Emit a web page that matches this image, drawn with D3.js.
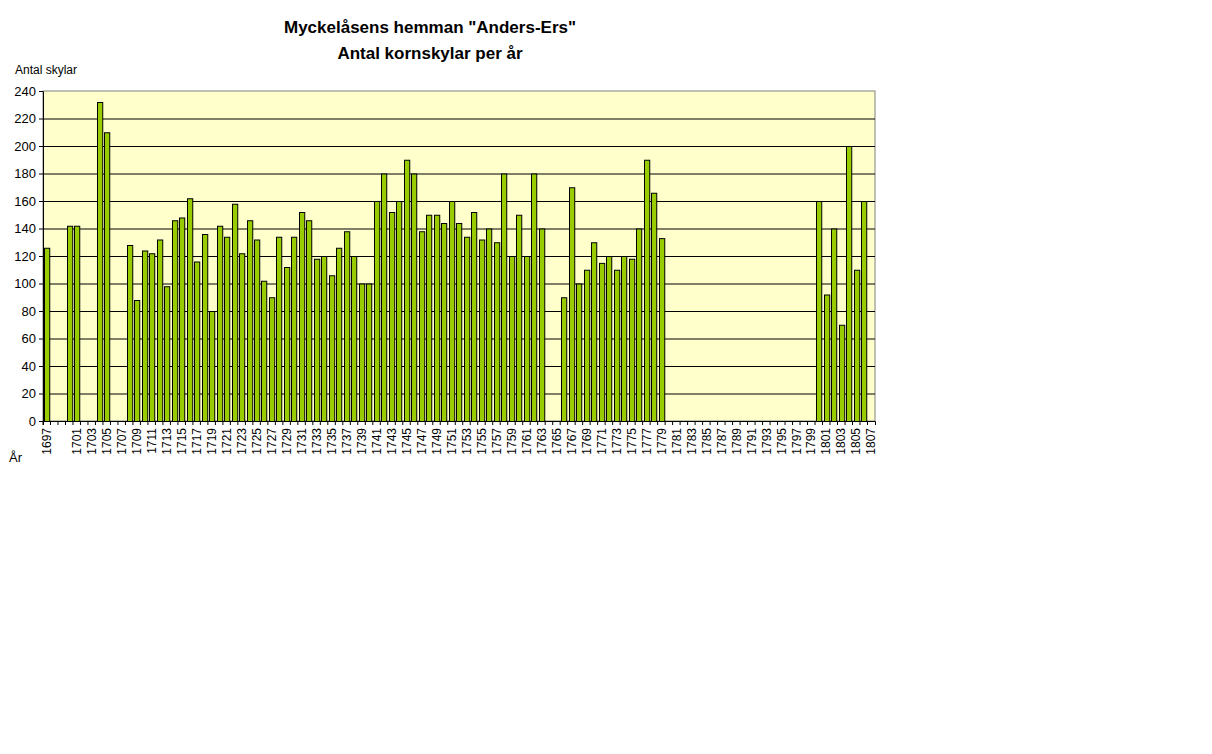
<!DOCTYPE html>
<html><head><meta charset="utf-8">
<script src="https://cdn.jsdelivr.net/npm/d3@7"></script>
<style>body{margin:0;background:#fff}</style>
</head><body>
<div id="chart"></div>
<script>
const firstYear = 1697, lastYear = 1807;
const years = d3.range(firstYear, lastYear + 1);
// skylar per year (missing = no data)
const values = {
  1697:126, 1700:142, 1701:142, 1704:232, 1705:210,
  1708:128, 1709:88, 1710:124, 1711:122, 1712:132, 1713:98, 1714:146, 1715:148,
  1716:162, 1717:116, 1718:136, 1719:80, 1720:142, 1721:134, 1722:158, 1723:122,
  1724:146, 1725:132, 1726:102, 1727:90, 1728:134, 1729:112, 1730:134, 1731:152,
  1732:146, 1733:118, 1734:120, 1735:106, 1736:126, 1737:138, 1738:120, 1739:100,
  1740:100, 1741:160, 1742:180, 1743:152, 1744:160, 1745:190, 1746:180, 1747:138,
  1748:150, 1749:150, 1750:144, 1751:160, 1752:144, 1753:134, 1754:152, 1755:132,
  1756:140, 1757:130, 1758:180, 1759:120, 1760:150, 1761:120, 1762:180, 1763:140,
  1766:90, 1767:170, 1768:100, 1769:110, 1770:130, 1771:115, 1772:120, 1773:110,
  1774:120, 1775:118, 1776:140, 1777:190, 1778:166, 1779:133,
  1800:160, 1801:92, 1802:140, 1803:70, 1804:200, 1805:110, 1806:160
};
const yTicks = d3.range(0, 241, 20);

const svg = d3.select("#chart").append("svg").attr("width", 1212).attr("height", 754)
  .style("font-family", "Arial, 'Liberation Sans', sans-serif");

const pLeft = 43, pRight = 875, pTop = 91, pBottom = 421;
const x = d3.scaleBand().domain(years).range([pLeft, pRight]).paddingInner(0.3).paddingOuter(0.15);
const y = d3.scaleLinear().domain([0, 240]).range([pBottom, pTop]);

svg.append("rect").attr("x", pLeft).attr("y", pTop).attr("width", pRight - pLeft).attr("height", pBottom - pTop)
  .attr("fill", "#ffffcc").attr("stroke", "#808080");

svg.selectAll("line.grid").data(yTicks.slice(1, -1)).enter().append("line")
  .attr("x1", pLeft).attr("x2", pRight).attr("y1", d => y(d) + 0.5).attr("y2", d => y(d) + 0.5)
  .attr("stroke", "#000");

svg.selectAll("rect.bar").data(years.filter(d => values[d] != null)).enter().append("rect")
  .attr("x", d => Math.round(x(d)) + 0.5).attr("width", x.bandwidth())
  .attr("y", d => y(values[d]) + 0.5).attr("height", d => pBottom - y(values[d]))
  .attr("fill", "#99cc00").attr("stroke", "#000");

svg.append("g").attr("transform", `translate(${pLeft},0)`)
  .call(d3.axisLeft(y).tickValues(yTicks).tickSize(4).tickSizeOuter(0))
  .call(g => g.select(".domain").attr("stroke", "#000"))
  .call(g => g.selectAll("text").attr("font-size", 13).attr("fill", "#000").attr("font-family", "Arial, 'Liberation Sans', sans-serif"));

const xAxis = d3.axisBottom(x).tickSizeOuter(0).tickSize(4)
  .tickFormat((d, i) => (i % 2 === 0 && d !== 1699) ? d : "");
svg.append("g").attr("transform", `translate(0,${pBottom})`).call(xAxis)
  .call(g => g.selectAll(".tick line").attr("transform", `translate(${-x.step() / 2},0)`))
  .call(g => g.selectAll("text").attr("transform", "rotate(-90)").attr("text-anchor", "end")
    .attr("x", -7).attr("y", 0).attr("dy", "0.35em")
    .attr("font-size", 12).attr("fill", "#000").attr("font-family", "Arial, 'Liberation Sans', sans-serif"));

svg.append("text").attr("x", 430).attr("y", 33).attr("text-anchor", "middle")
  .attr("font-weight", "bold").attr("font-size", 17).text('Myckelåsens hemman "Anders-Ers"');
svg.append("text").attr("x", 430).attr("y", 59).attr("text-anchor", "middle")
  .attr("font-weight", "bold").attr("font-size", 17).text("Antal kornskylar per år");
svg.append("text").attr("x", 15).attr("y", 74).attr("font-size", 12).text("Antal skylar");
svg.append("text").attr("x", 9).attr("y", 462).attr("font-size", 13).text("År");
</script>
</body></html>
